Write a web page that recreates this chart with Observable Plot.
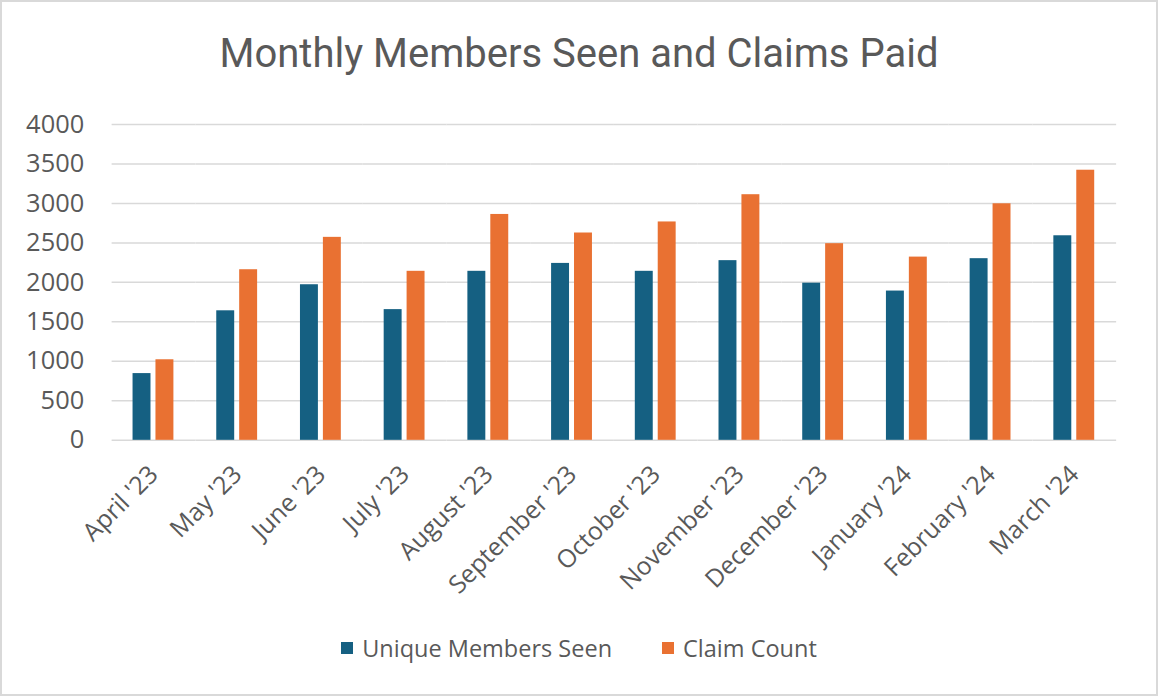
<!DOCTYPE html>
<html>
<head>
<meta charset="utf-8">
<script src="https://cdn.jsdelivr.net/npm/d3@7"></script>
<script src="https://cdn.jsdelivr.net/npm/@observablehq/plot@0.6"></script>
<style>
  html, body { margin: 0; padding: 0; background: #fff; }
  #frame { position: relative; width: 1158px; height: 696px; box-sizing: border-box; border: 2px solid #d9d9d9; overflow: hidden; }
  #title { position: absolute; left: 0; top: 27px; width: 100%; text-align: center; font-family: Roboto, "Open Sans", sans-serif; font-size: 40px; color: #595959; line-height: 50px; }
  #chart { position: absolute; left: -2px; top: 98px; }
  #legend { position: absolute; left: 0; top: 630px; width: 100%; display: flex; justify-content: center; align-items: center; font-family: "Open Sans", sans-serif; font-size: 23.5px; color: #595959; line-height: 32px; }
  .item { display: flex; align-items: center; }
  .sw { width: 12px; height: 12px; margin-right: 9px; }
</style>
</head>
<body>
<div id="frame">
  <div id="title"></div>
  <div id="chart"></div>
  <div id="legend"></div>
</div>
<script>
const titleText = "Monthly Members Seen and Claims Paid";
const months = ["April '23", "May '23", "June '23", "July '23", "August '23", "September '23", "October '23", "November '23", "December '23", "January '24", "February '24", "March '24"];
const seriesNames = ["Unique Members Seen", "Claim Count"];
const uniqueMembers = [845, 1640, 1970, 1655, 2140, 2240, 2140, 2275, 1990, 1890, 2300, 2590];
const claimCount = [1020, 2160, 2570, 2140, 2860, 2625, 2765, 3110, 2490, 2320, 2995, 3420];
const yTicks = [0, 500, 1000, 1500, 2000, 2500, 3000, 3500, 4000];
const colors = ["#156082", "#E97132"];

const data = [];
months.forEach((m, i) => {
  data.push({month: m, series: seriesNames[0], value: uniqueMembers[i]});
  data.push({month: m, series: seriesNames[1], value: claimCount[i]});
});

document.getElementById("title").textContent = titleText;

const chart = Plot.plot({
  width: 1160,
  height: 524,
  marginLeft: 110,
  marginRight: 38,
  marginTop: 24,
  marginBottom: 183,
  style: { fontFamily: "'Open Sans', sans-serif", color: "#595959", background: "transparent" },
  fx: { domain: months, paddingInner: 0, paddingOuter: 0, label: null },
  x: { domain: seriesNames, paddingInner: 0.2, paddingOuter: 0.86, axis: null },
  y: { domain: [0, 4000], label: null },
  color: { domain: seriesNames, range: colors },
  marks: [
    Plot.ruleY(yTicks, { stroke: "#d9d9d9", strokeWidth: 1.5 }),
    Plot.barY(data, { fx: "month", x: "series", y: "value", fill: "series" }),
    Plot.axisY({ ticks: yTicks, tickSize: 0, tickPadding: 28, fontSize: 25.5, label: null, tickFormat: d => String(d) }),
    Plot.axisFx({ tickRotate: -45, tickSize: 0, tickPadding: 30, fontSize: 25, label: null, anchor: "bottom" })
  ]
});
document.getElementById("chart").appendChild(chart);

const legend = document.getElementById("legend");
seriesNames.forEach((s, i) => {
  const item = document.createElement("div");
  item.className = "item";
  if (i > 0) item.style.marginLeft = "50px";
  const sw = document.createElement("div");
  sw.className = "sw";
  sw.style.background = colors[i];
  const t = document.createElement("span");
  t.textContent = s;
  item.appendChild(sw);
  item.appendChild(t);
  legend.appendChild(item);
});
</script>
</body>
</html>
